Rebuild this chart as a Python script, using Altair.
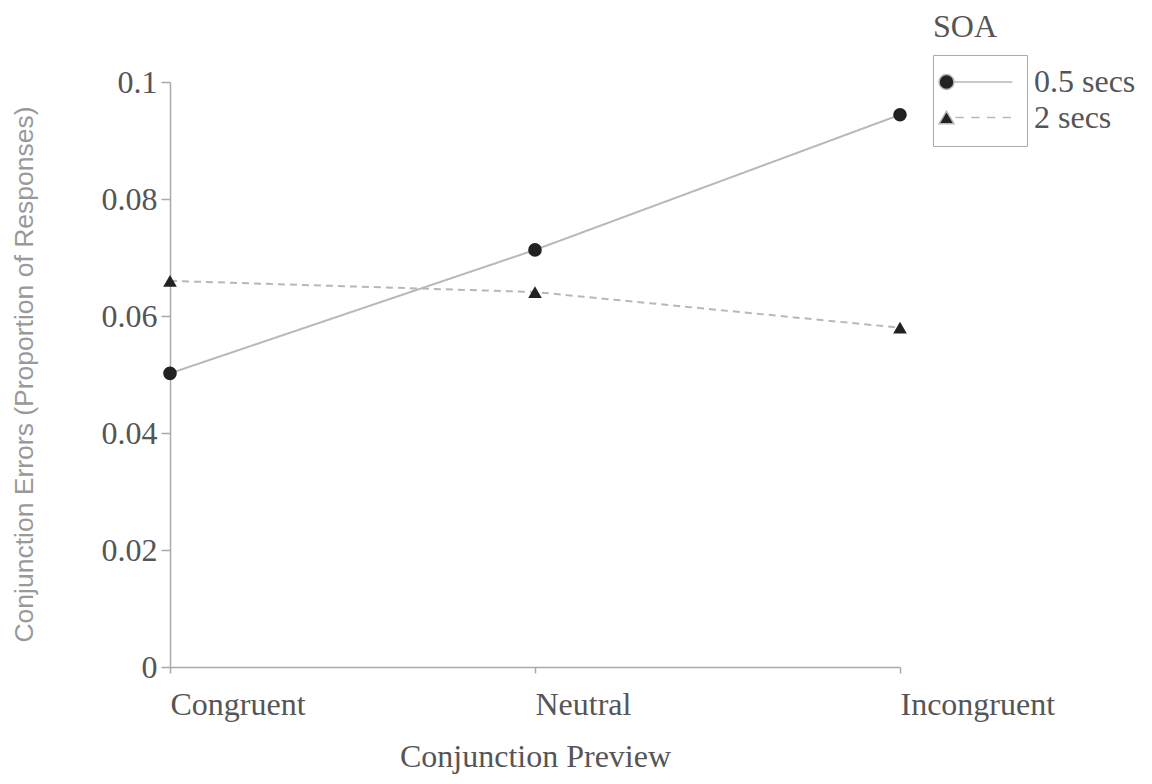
import altair as alt
import pandas as pd

previews = ["Congruent", "Neutral", "Incongruent"]
soa_labels = ["0.5 secs", "2 secs"]
errors_05 = [0.0502, 0.0713, 0.0944]
errors_2 = [0.0660, 0.0641, 0.0580]
y_ticks = [0, 0.02, 0.04, 0.06, 0.08, 0.1]

rows = []
for soa, vals in zip(soa_labels, [errors_05, errors_2]):
    for p, v in zip(previews, vals):
        rows.append({"preview": p, "SOA": soa, "SOA_key": soa, "errors": v})
df = pd.DataFrame(rows)

SERIF = "Liberation Serif"
LABEL_COLOR = "#555555"
AXIS_COLOR = "#aaaaaa"
LINE_COLOR = "#b8b8b8"
MARK_COLOR = "#222222"
FS = 32

# legend symbol paths (marker + line), in symbol units (1 unit = 15px)
path_circle = ("M-1.4,0A0.5,0.5,0,1,0,-0.4,0A0.5,0.5,0,1,0,-1.4,0Z"
               "M-0.4,0L3.5,0M-0.9,-0.65L-0.9,-0.65")
path_tri = ("M-1.4,0.42L-0.9,-0.42L-0.4,0.42Z"
            "M-0.3,0L0.25,0M0.75,0L1.3,0M1.8,0L2.35,0M2.85,0L3.4,0M-0.9,0.95L-0.9,0.95")

x_enc = alt.X(
    "preview:N",
    sort=previews,
    scale=alt.Scale(domain=previews, padding=0),
    axis=alt.Axis(
        title="Conjunction Preview",
        labelAngle=0,
        labelAlign="left",
        labelFont=SERIF,
        labelFontSize=FS,
        labelColor=LABEL_COLOR,
        labelPadding=16,
        titleFont=SERIF,
        titleFontSize=FS,
        titleFontWeight="normal",
        titleColor=LABEL_COLOR,
        titlePadding=21,
        domainColor=AXIS_COLOR,
        tickColor=AXIS_COLOR,
        tickSize=6,
        domainWidth=1.5,
        tickWidth=1.5,
        grid=False,
    ),
)
y_enc = alt.Y(
    "errors:Q",
    scale=alt.Scale(domain=[0, 0.1], nice=False, zero=True),
    axis=alt.Axis(
        title="Conjunction Errors (Proportion of Responses)",
        values=y_ticks,
        format="~g",
        labelFont=SERIF,
        labelFontSize=FS,
        labelColor=LABEL_COLOR,
        labelPadding=4,
        titleFont="Liberation Sans",
        titleFontSize=26.5,
        titleFontWeight="normal",
        titleColor="#999999",
        titleAngle=270,
        titleBaseline="bottom",
        titleAlign="center",
        titleX=-132,
        titleY=292,
        domainColor=AXIS_COLOR,
        tickColor=AXIS_COLOR,
        tickSize=9,
        domainWidth=1.5,
        tickWidth=1.5,
        grid=False,
    ),
)

lines = alt.Chart(df).mark_line(color=LINE_COLOR, strokeWidth=2).encode(
    x=x_enc,
    y=y_enc,
    strokeDash=alt.StrokeDash(
        "SOA:N",
        scale=alt.Scale(domain=soa_labels, range=[[1, 0], [7, 5]]),
        legend=alt.Legend(
            orient="none",
            legendX=763,
            legendY=-70,
            title="SOA",
            titleFont=SERIF,
            titleFontSize=FS,
            titleFontWeight="normal",
            titleColor=LABEL_COLOR,
            titlePadding=22,
            labelFont=SERIF,
            labelFontSize=FS,
            labelColor=LABEL_COLOR,
            labelOffset=69,
            symbolOpacity=0,
            symbolSize=4,
            rowPadding=4,
            padding=0,
        ),
    ),
)

points = alt.Chart(df).mark_point(filled=True, opacity=1, size=185, color=MARK_COLOR).encode(
    x=x_enc,
    y=y_enc,
    shape=alt.Shape(
        "SOA:N",
        scale=alt.Scale(domain=soa_labels, range=["circle", "triangle-up"]),
        legend=None,
    ),
)

legend_layer = alt.Chart(df).transform_filter("false").mark_point(
    filled=True, fill=MARK_COLOR, stroke=LINE_COLOR, strokeWidth=1.5
).encode(
    x=x_enc,
    y=y_enc,
    shape=alt.Shape(
        "SOA_key:N",
        scale=alt.Scale(domain=soa_labels, range=[path_circle, path_tri]),
        legend=alt.Legend(
            orient="none",
            legendX=763,
            legendY=-27,
            title=None,
            labelExpr="''",
            labelFontSize=1,
            labelOffset=0,
            symbolSize=900,
            symbolOpacity=1,
            symbolStrokeWidth=1.5,
            strokeColor=AXIS_COLOR,
            padding=11,
            rowPadding=8.5,
        ),
    ),
)

chart = (
    alt.layer(lines, points, legend_layer)
    .resolve_scale(shape="independent")
    .properties(
        width=730,
        height=585,
        autosize=alt.AutoSizeParams(type="none"),
        padding={"left": 162, "top": 74, "right": 236, "bottom": 112},
    )
    .configure(background="white")
    .configure_view(strokeWidth=0)
)

chart.save("out.html", embed_options={"renderer": "svg", "actions": False})
